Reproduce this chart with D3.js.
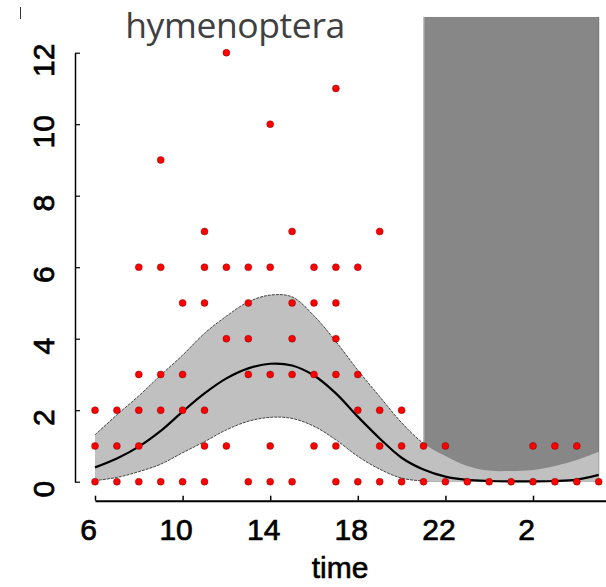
<!DOCTYPE html>
<html>
<head>
<meta charset="utf-8">
<script src="https://cdn.jsdelivr.net/npm/d3@7/dist/d3.min.js"></script>
<style>
  body { margin: 0; background: #fff; }
  svg { display: block; }
</style>
</head>
<body>
<svg id="chart" width="606" height="587"></svg>
<script>
// Sampling hours (6 = 06:00 ... 29 = 05:00 next day)
const obsHours = [6, 7, 8, 9, 10, 11, 12, 13, 14, 15, 16, 17, 18, 19, 20, 21, 22, 23, 24, 25, 26, 27, 28, 29];
// Individual counts observed at each hour
const obsCounts = [
  [0, 1, 2],
  [0, 1, 2],
  [0, 1, 2, 3, 6],
  [0, 2, 3, 6, 9],
  [0, 2, 3, 5],
  [0, 1, 2, 5, 6, 7],
  [1, 4, 6, 12],
  [0, 3, 4, 5, 6],
  [0, 1, 3, 6, 10],
  [0, 3, 4, 5, 7],
  [1, 3, 5, 6],
  [0, 1, 3, 4, 5, 6, 11],
  [0, 2, 3, 6],
  [0, 1, 2, 7],
  [0, 1, 2],
  [0, 1],
  [0, 1],
  [0],
  [0],
  [0],
  [0, 1],
  [0, 1],
  [0, 1],
  [0]
];

// Fitted mean and confidence band, evaluated at each hour
const fitHours = [6, 7, 8, 9, 10, 11, 12, 13, 14, 15, 16, 17, 18, 19, 20, 21, 22, 23, 24, 25, 26, 27, 28, 29];
const fitMean  = [0.40, 0.65, 0.98, 1.42, 1.96, 2.47, 2.89, 3.17, 3.30, 3.25, 2.97, 2.47, 1.82, 1.21, 0.67, 0.34, 0.14, 0.05, 0.02, 0.01, 0.01, 0.02, 0.06, 0.19];
const fitUpper = [1.31, 1.87, 2.40, 2.98, 3.54, 4.15, 4.63, 5.03, 5.22, 5.17, 4.64, 3.92, 3.12, 2.38, 1.65, 1.07, 0.72, 0.44, 0.31, 0.30, 0.33, 0.44, 0.61, 0.84];
const fitLower = [0.03, 0.12, 0.28, 0.49, 0.81, 1.12, 1.45, 1.69, 1.80, 1.77, 1.55, 1.17, 0.71, 0.35, 0.10, 0.02, 0.00, 0.00, 0.00, 0.00, 0.00, 0.00, 0.00, 0.00];

// Night period (shaded) and axis ticks
const nightStart = 21, nightEnd = 29, nightTop = 13;
const xTickValues = [6, 10, 14, 18, 22, 26];
const xTickLabels = ["6", "10", "14", "18", "22", "2"];
const yTickValues = [0, 2, 4, 6, 8, 10, 12];
const titleText = "hymenoptera";
const xLabelText = "time";

const svg = d3.select("#chart");

const x = d3.scaleLinear().domain([6, 30]).range([95, 620.6]);
const y = d3.scaleLinear().domain([0, 12]).range([481.7, 52.7]);

svg.append("rect").attr("width", 606).attr("height", 587).attr("fill", "#fff");

// Night shading
svg.append("rect")
  .attr("x", x(nightStart))
  .attr("y", y(nightTop))
  .attr("width", x(nightEnd) - x(nightStart))
  .attr("height", y(0) - y(nightTop))
  .attr("fill", "#878787");
svg.append("line")
  .attr("x1", x(nightEnd)).attr("x2", x(nightEnd))
  .attr("y1", y(nightTop)).attr("y2", y(0))
  .attr("stroke", "#6e6e6e").attr("stroke-width", 1);
svg.append("line")
  .attr("x1", x(nightStart) + 0.5).attr("x2", x(nightStart) + 0.5)
  .attr("y1", y(nightTop)).attr("y2", y(0))
  .attr("stroke", "#b8b8b8").attr("stroke-width", 1);

const fit = fitHours.map((h, i) => ({ h, m: fitMean[i], u: fitUpper[i], l: fitLower[i] }));
const smooth = d3.curveCatmullRom.alpha(0.5);

// Confidence band
const band = d3.area()
  .x(d => x(d.h))
  .y0(d => y(d.l))
  .y1(d => y(d.u))
  .curve(smooth);
svg.append("path")
  .datum(fit)
  .attr("d", band)
  .attr("fill", "#c0c0c0");

// Band edges (only outside the night shading)
svg.append("clipPath").attr("id", "dayClip")
  .append("rect")
  .attr("x", 0).attr("y", 0)
  .attr("width", x(nightStart)).attr("height", 587);
const edgeUpper = d3.line().x(d => x(d.h)).y(d => y(d.u)).curve(smooth);
const edgeLower = d3.line().x(d => x(d.h)).y(d => y(d.l)).curve(smooth);
[edgeUpper, edgeLower].forEach(gen => {
  svg.append("path")
    .datum(fit)
    .attr("d", gen)
    .attr("clip-path", "url(#dayClip)")
    .attr("fill", "none")
    .attr("stroke", "#333")
    .attr("stroke-width", 0.9)
    .attr("stroke-dasharray", "3,1");
});

// Fitted mean
svg.append("path")
  .datum(fit)
  .attr("d", d3.line().x(d => x(d.h)).y(d => y(d.m)).curve(smooth))
  .attr("fill", "none")
  .attr("stroke", "#000")
  .attr("stroke-width", 2.2);

// Observations
const points = [];
obsHours.forEach((h, i) => obsCounts[i].forEach(c => points.push({ h, c })));
svg.append("g")
  .selectAll("circle")
  .data(points)
  .join("circle")
  .attr("cx", d => x(d.h))
  .attr("cy", d => y(d.c))
  .attr("r", 3.5)
  .attr("fill", "#ff0000")
  .attr("stroke", "rgba(90,0,0,0.55)")
  .attr("stroke-width", 0.7);

const tickFont = "'Liberation Sans', Arial, sans-serif";

// X axis (ticks point inward)
const gx = svg.append("g")
  .attr("transform", `translate(0,${500.7})`)
  .call(d3.axisBottom(x)
    .tickValues(xTickValues)
    .tickFormat((d, i) => xTickLabels[i])
    .tickSizeInner(-5)
    .tickSizeOuter(0));
gx.select(".domain").attr("stroke", "#000").attr("stroke-width", 2);
gx.selectAll(".tick line").attr("stroke", "#000").attr("stroke-width", 1.5);
gx.selectAll(".tick text")
  .attr("x", -7)
  .attr("y", 39.3)
  .attr("dy", null)
  .attr("fill", "#000")
  .attr("stroke", "#000")
  .attr("stroke-width", 0.7)
  .style("font-family", tickFont)
  .style("font-size", "30px");

// Y axis (ticks point inward, labels rotated)
const gy = svg.append("g")
  .attr("transform", `translate(${75},0)`)
  .call(d3.axisLeft(y)
    .tickValues(yTickValues)
    .tickFormat(d3.format("d"))
    .tickSizeInner(-5)
    .tickSizeOuter(0));
gy.select(".domain").attr("stroke", "#000").attr("stroke-width", 1.5);
gy.selectAll(".tick line").attr("stroke", "#000").attr("stroke-width", 1.2);
gy.selectAll(".tick text")
  .attr("x", null)
  .attr("dy", null)
  .attr("text-anchor", "middle")
  .attr("transform", "translate(-21.5,7) rotate(-90)")
  .attr("fill", "#000")
  .attr("stroke", "#000")
  .attr("stroke-width", 0.7)
  .style("font-family", tickFont)
  .style("font-size", "30px");

// X axis title
svg.append("text")
  .attr("x", 340)
  .attr("y", 578)
  .attr("text-anchor", "middle")
  .attr("fill", "#000")
  .attr("stroke", "#000")
  .attr("stroke-width", 0.6)
  .style("font-family", tickFont)
  .style("font-size", "30px")
  .text(xLabelText);

// Panel title
svg.append("text")
  .attr("x", 235)
  .attr("y", 38.3)
  .attr("text-anchor", "middle")
  .attr("fill", "#404040")
  .style("font-family", "'Open Sans', sans-serif")
  .style("font-size", "35.5px")
  .style("letter-spacing", "-0.4px")
  .text(titleText);

// Small mark at the top-left corner
svg.append("line")
  .attr("x1", 20.5).attr("x2", 20.5)
  .attr("y1", 7).attr("y2", 19)
  .attr("stroke", "#333").attr("stroke-width", 1);
</script>
</body>
</html>
